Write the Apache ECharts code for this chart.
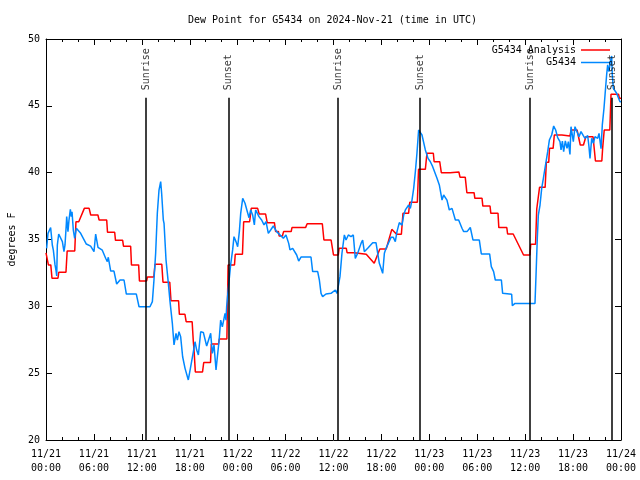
<!DOCTYPE html>
<html><head><meta charset="utf-8">
<script src="https://cdn.jsdelivr.net/npm/echarts@6/dist/echarts.min.js"></script>
<style>html,body{margin:0;padding:0;background:#fff}#c{width:640px;height:480px}</style>
</head><body><div id="c"></div>
<script>
const titleText = 'Dew Point for G5434 on 2024-Nov-21 (time in UTC)';
const yAxisName = 'degrees F';
const seriesNames = ['G5434 Analysis', 'G5434'];
// x ticks: hours since 2024-11-21 00:00 UTC, every 6 h
const xTickLabels = ['11/21\n00:00','11/21\n06:00','11/21\n12:00','11/21\n18:00','11/22\n00:00','11/22\n06:00','11/22\n12:00','11/22\n18:00','11/23\n00:00','11/23\n06:00','11/23\n12:00','11/23\n18:00','11/24\n00:00'];
const yTickValues = [20, 25, 30, 35, 40, 45, 50];

// Analysis (red): hours since start, dew point F
const analysisHours = [0,0.3,0.6,0.75,1.5,1.6,2.5,2.65,3.6,3.75,4.1,4.8,5.4,5.6,6.5,6.65,7.6,7.7,8.6,8.7,9.6,9.7,10.6,10.7,11.6,11.7,12.6,12.7,13.5,13.65,14.5,14.65,15.5,15.65,16.6,16.7,17.4,17.55,18.3,18.45,18.55,18.7,19.6,19.75,20.6,20.7,21.6,21.7,22.65,22.8,23.6,23.7,24.6,24.75,25.5,25.7,26.5,26.7,27.5,27.7,28.6,28.75,29.1,29.2,29.6,29.75,30.7,30.8,32.5,32.7,34.6,34.8,35.7,36.0,36.6,36.7,37.6,37.7,38.6,38.7,40.1,41.1,41.8,42.6,43.3,43.5,43.9,44.5,44.7,45.4,45.55,46.5,46.65,47.5,47.7,48.5,48.6,49.3,49.5,50.6,50.7,51.7,51.85,52.5,52.7,53.6,53.7,54.6,54.7,55.6,55.7,56.6,56.7,57.7,57.8,58.5,59.8,60.6,60.7,61.3,61.45,61.7,61.8,62.5,62.65,62.95,63.05,63.5,63.65,64.6,64.7,65.6,65.75,66.5,66.9,67.3,67.6,68.5,68.8,69.6,69.7,69.8,69.9,70.6,70.75,71.7,71.8,72];
const analysisValues = [34.0,33.1,33.1,32.1,32.1,32.55,32.55,34.14,34.14,36.33,36.33,37.33,37.33,36.83,36.83,36.46,36.46,35.54,35.54,34.94,34.94,34.5,34.5,33.1,33.1,31.9,31.9,32.2,32.2,33.14,33.14,31.8,31.8,30.42,30.42,29.4,29.4,28.85,28.85,27.35,26.6,25.09,25.09,25.8,25.8,27.18,27.18,27.56,27.56,33.1,33.1,33.9,33.9,36.33,36.33,37.33,37.33,36.9,36.9,36.26,36.26,35.6,35.6,35.26,35.26,35.59,35.59,35.89,35.89,36.18,36.18,34.96,34.96,33.84,33.84,34.34,34.34,34.01,34.01,33.89,33.89,33.22,34.29,34.29,35.76,35.76,35.39,35.39,36.96,36.96,37.78,37.78,40.25,40.25,41.45,41.45,40.82,40.82,40.0,40.0,40.05,40.05,39.65,39.65,38.5,38.5,38.08,38.08,37.5,37.5,36.96,36.96,35.89,35.89,35.41,35.41,33.84,33.84,34.64,34.64,37.28,37.28,38.9,38.9,40.77,40.77,41.82,41.82,42.82,42.82,42.74,42.74,43.19,43.19,42.07,42.07,42.69,42.69,40.87,40.87,41.82,41.82,43.19,43.19,45.86,45.86,45.56,45.56];

// Observations (blue)
const obsHours = [0.08,0.25,0.58,0.79,0.92,1.13,1.25,1.34,1.42,1.59,1.84,2.05,2.25,2.38,2.55,2.59,2.75,2.88,3.05,3.17,3.26,3.42,3.59,3.8,4.05,4.34,4.67,5.05,5.59,6.01,6.22,6.51,7.05,7.47,7.68,7.8,8.1,8.51,8.85,9.27,9.77,10.06,11.31,11.65,13.02,13.19,13.32,13.52,13.73,13.94,14.15,14.36,14.48,14.69,14.78,15.03,15.32,15.53,15.82,16.03,16.28,16.45,16.65,16.86,17.11,17.41,17.82,18.12,18.45,18.66,18.87,19.08,19.37,19.7,20.12,20.37,20.62,20.83,21.04,21.29,21.46,21.66,21.87,22.08,22.42,22.54,22.62,22.83,23.12,23.37,23.54,23.79,24.0,24.21,24.38,24.63,24.92,25.21,25.42,25.63,25.88,26.09,26.25,26.46,26.67,27.0,27.3,27.55,27.84,28.13,28.47,28.68,28.88,29.01,29.72,30.05,30.26,30.39,30.55,30.89,31.1,31.39,31.64,31.93,33.18,33.39,34.02,34.23,34.44,34.64,35.06,35.69,36.23,36.44,36.61,36.81,37.06,37.36,37.57,37.86,38.19,38.48,38.73,39.03,39.45,39.65,39.86,40.28,40.91,41.32,41.74,42.16,42.37,42.58,43.2,43.49,43.74,43.95,44.24,44.58,44.79,45.0,45.2,45.41,45.62,45.83,46.04,46.25,46.45,46.66,46.87,47.08,47.29,47.5,47.84,48.13,48.42,48.67,48.96,49.25,49.59,49.79,50.0,50.21,50.5,50.84,51.05,51.26,51.47,51.67,52.09,52.3,52.72,53.13,53.47,54.26,54.51,55.55,55.76,56.05,56.26,57.02,57.18,57.31,58.31,58.39,58.73,61.23,61.36,61.52,61.65,61.86,62.07,62.28,62.48,62.82,63.03,63.32,63.57,63.82,64.07,64.36,64.49,64.66,64.82,65.03,65.24,65.41,65.61,65.74,66.03,66.24,66.45,66.74,66.99,67.28,67.49,67.83,67.99,68.12,68.33,68.54,68.74,69.08,69.25,69.5,69.66,69.87,70.0,70.2,70.33,70.49,70.66,70.83,70.91,71.04,71.25,71.45,71.66,71.87,72];
const obsValues = [34.34,35.46,35.9,34.59,34.2,33.1,32.7,32.27,34.59,35.41,35.41,34.84,34.09,34.59,36.21,36.71,35.59,36.46,37.26,36.71,37.08,35.71,35.09,35.84,35.84,35.46,35.09,34.66,34.5,34.09,35.41,34.41,34.2,33.6,33.34,33.67,32.64,32.64,31.67,31.97,31.97,30.92,30.92,29.97,29.97,30.1,30.35,31.97,33.97,36.96,38.7,39.33,38.46,36.46,36.21,33.47,31.72,30.35,28.73,27.11,27.98,27.48,28.1,27.73,26.23,25.36,24.49,25.49,26.6,27.35,26.73,26.36,28.1,28.05,27.03,27.03,27.98,26.48,27.11,25.24,26.23,27.35,28.97,28.47,29.47,28.97,29.97,31.35,33.1,34.22,35.21,34.84,34.46,35.59,36.96,38.08,37.71,37.08,36.63,37.21,36.83,36.09,37.21,37.08,36.71,36.46,36.09,36.33,35.46,35.71,36.01,36.09,35.59,35.59,35.09,35.34,35.46,34.71,34.22,34.34,34.46,33.84,33.39,33.69,33.69,32.6,32.6,31.97,30.97,30.72,30.92,30.97,31.22,30.97,30.92,32.22,33.97,35.34,34.96,35.34,35.21,35.34,33.59,33.97,34.71,34.96,34.09,34.34,34.76,34.76,33.22,32.47,33.97,34.34,35.16,35.16,34.84,35.59,36.26,36.08,36.83,37.21,37.33,37.58,37.33,37.95,38.83,40.07,41.45,43.19,43.07,42.82,42.69,41.7,41.07,40.82,40.45,40.57,39.58,39.08,37.95,38.33,38.4,37.95,37.21,37.33,37.21,36.46,36.55,36.46,35.84,35.59,35.59,35.9,34.96,34.96,33.92,33.92,32.97,32.6,31.97,31.97,30.97,30.92,30.9,30.05,30.22,30.22,32.34,35.09,36.83,37.58,38.83,39.58,40.33,41.57,42.44,42.82,43.49,43.19,42.62,42.32,41.7,42.37,41.57,42.37,41.82,42.32,41.37,43.44,42.32,43.44,43.57,42.69,43.07,42.77,42.57,42.77,41.94,41.07,42.57,42.2,42.69,42.57,42.94,41.79,43.57,44.82,45.81,47.31,48.06,47.56,48.3,48.73,47.31,46.31,46.43,45.94,45.81,45.31,45.3];

// Sunrise / sunset times (hours since start)
const sunEventNames = ['Sunrise','Sunset','Sunrise','Sunset','Sunrise','Sunset'];
const sunEventHours = [12.55, 22.83, 36.58, 46.85, 60.6, 70.88];
const sunLineTop = 45.6;

const mono = 'DejaVu Sans Mono';
const zip = (a, b) => a.map((x, i) => [x, b[i]]);
const tickStyle = {color: '#000', width: 1};

const xAxisBase = {
  type: 'value', min: 0, max: 72, interval: 6,
  axisLine: {show: true, onZero: false, lineStyle: tickStyle},
  axisTick: {show: true, inside: true, length: 6, lineStyle: tickStyle},
  minorTick: {show: true, splitNumber: 3, length: 3, lineStyle: tickStyle},
  splitLine: {show: false}, minorSplitLine: {show: false}
};
const yAxisBase = {
  type: 'value', min: 20, max: 50, interval: 5,
  axisLine: {show: true, onZero: false, lineStyle: tickStyle},
  axisTick: {show: true, inside: true, length: 6, lineStyle: tickStyle},
  splitLine: {show: false}
};

const chart = echarts.init(document.getElementById('c'), null, {renderer: 'canvas'});
chart.setOption({
  animation: false,
  backgroundColor: '#fff',
  title: {text: titleText, left: 188, top: 15, padding: 0,
    textStyle: {fontFamily: mono, fontSize: 10, fontWeight: 'normal', color: '#000'}},
  grid: {left: 46, right: 19, top: 39, bottom: 40, containLabel: false, outerBoundsMode: 'none'},
  legend: {
    data: seriesNames, orient: 'vertical', align: 'right', right: 30, top: 45, padding: 0,
    icon: 'rect', itemWidth: 29, itemHeight: 1.5, itemGap: 2.5,
    textStyle: {fontFamily: mono, fontSize: 10, color: '#000'}
  },
  xAxis: [
    Object.assign({}, xAxisBase, {position: 'bottom',
      axisLabel: {formatter: v => xTickLabels[Math.round(v / 6)] || '', color: '#000',
        fontFamily: mono, fontSize: 10, lineHeight: 14, margin: 7}}),
    Object.assign({}, xAxisBase, {position: 'top', axisLabel: {show: false}})
  ],
  yAxis: [
    Object.assign({}, yAxisBase, {position: 'left', name: yAxisName, nameLocation: 'middle',
      nameGap: 28, nameRotate: 90,
      nameTextStyle: {fontFamily: mono, fontSize: 10, color: '#000'},
      axisLabel: {color: '#000', fontFamily: mono, fontSize: 10, margin: 6,
        formatter: v => yTickValues.includes(v) ? String(v) : ''}}),
    Object.assign({}, yAxisBase, {position: 'right', axisLabel: {show: false}})
  ],
  series: [
    {name: seriesNames[0], type: 'line', data: zip(analysisHours, analysisValues),
      symbol: 'none', color: '#ff0000', lineStyle: {width: 1.5, color: '#ff0000'}, z: 2},
    {name: seriesNames[1], type: 'line', data: zip(obsHours, obsValues),
      symbol: 'none', color: '#0088ff', lineStyle: {width: 1.5, color: '#0088ff'}, z: 3},
    {name: 'sun', type: 'scatter', symbolSize: 1, z: 4,
      itemStyle: {color: 'rgba(0,0,0,0)'},
      data: sunEventHours.map((h, i) => [h, sunLineTop, sunEventNames[i]]),
      label: {show: true, formatter: p => p.data[2], position: 'top', distance: 6,
        rotate: 90, align: 'left', verticalAlign: 'middle', offset: [1, 0],
        fontFamily: mono, fontSize: 10, color: '#000'},
      markLine: {silent: true, symbol: ['none', 'none'], animation: false,
        label: {show: false},
        lineStyle: {color: '#000', width: 1.5, type: 'solid'},
        data: sunEventHours.map(h => [{coord: [h, 20]}, {coord: [h, sunLineTop]}])}
    }
  ]
});
</script>
</body></html>
